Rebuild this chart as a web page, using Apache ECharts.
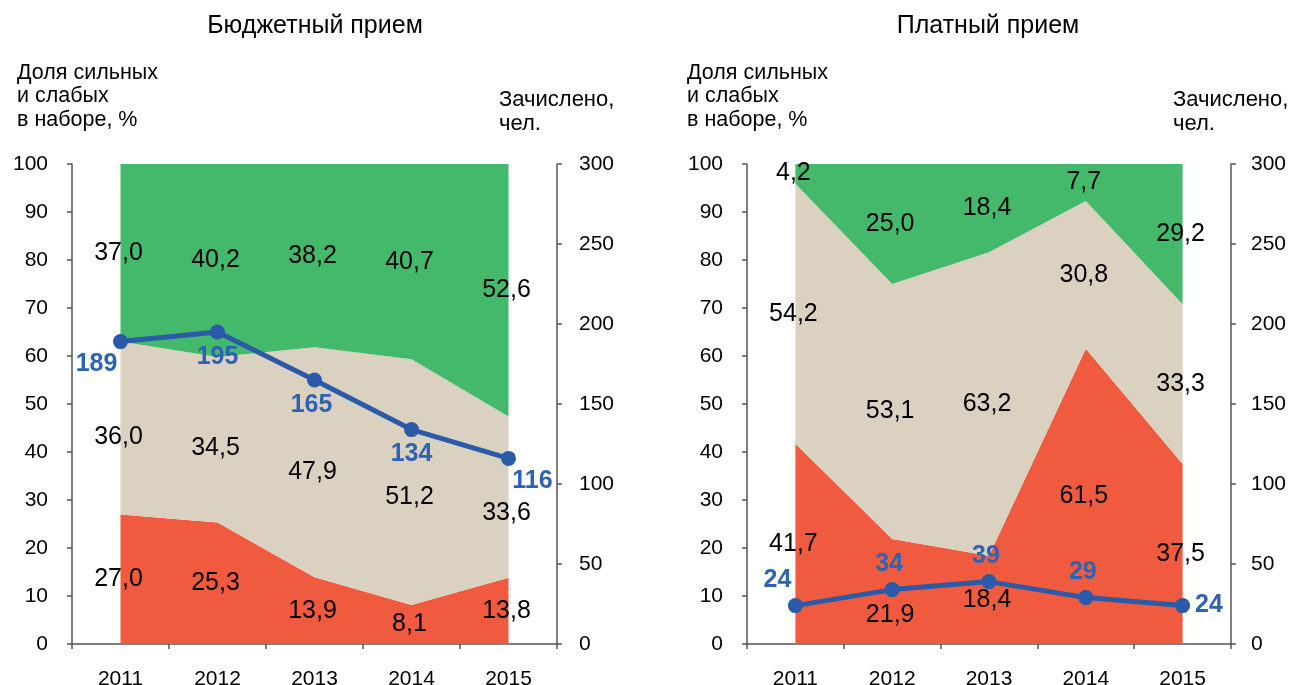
<!DOCTYPE html>
<html><head><meta charset="utf-8">
<script src="https://cdn.jsdelivr.net/npm/echarts@6/dist/echarts.min.js"></script>
<style>html,body{margin:0;padding:0;background:#fff}#c{width:1292px;height:685px}</style>
</head><body><div id="c"></div>
<script>
// ---- data ----
const years = ['2011', '2012', '2013', '2014', '2015'];
// Бюджетный прием
const budgetWeak = [27.0, 25.3, 13.9, 8.1, 13.8];
const budgetMiddle = [36.0, 34.5, 47.9, 51.2, 33.6];
const budgetStrong = [37.0, 40.2, 38.2, 40.7, 52.6];
const budgetEnrolled = [189, 195, 165, 134, 116];
// Платный прием
const paidWeak = [41.7, 21.9, 18.4, 61.5, 37.5];
const paidMiddle = [54.2, 53.1, 63.2, 30.8, 33.3];
const paidStrong = [4.2, 25.0, 18.4, 7.7, 29.2];
const paidEnrolled = [24, 34, 39, 29, 24];
const panelTitles = ['Бюджетный прием', 'Платный прием'];
const leftAxisName = 'Доля сильных\nи слабых\nв наборе, %';
const rightAxisName = 'Зачислено,\nчел.';

// ---- style ----
const FONT = 'Liberation Sans, Arial, sans-serif';
const GREEN = '#45b96b', BEIGE = '#dbd1c0', RED = '#f05a3f';
const BLUE = '#2a5aa8', BLUE_TXT = '#2f63b2', AXIS = '#555', TXT = '#000';
const budgetNudge = { weak: [0,0,0,0,0], middle: [9,8,10,15,16], strong: [0,0,0,0,0] };
const paidNudge = { weak: [0,24,0,0,0], middle: [0,0,0,0,0], strong: [0,0,0,0,0] };
const budgetLinePos = [['bottom',[-24,-2]],['bottom',[0,0]],['bottom',[-3,0]],['bottom',[0,0]],['bottom',[24,-2]]];
const paidLinePos = [['top',[-18,0]],['top',[-3,0]],['top',[-3,0]],['top',[-3,0]],['right',[0,0]]];

const fmt = v => v.toFixed(1).replace('.', ',');

function areaSeries(name, data, color, stack, xi, yi) {
  return { name, type: 'line', stack, xAxisIndex: xi, yAxisIndex: yi, data,
    showSymbol: false, symbol: 'none', lineStyle: { width: 0 }, areaStyle: { color, opacity: 1 },
    itemStyle: { color }, z: 1, silent: true };
}
function labelSeries(weak, middle, strong, nudge, xi, yi) {
  const items = [];
  years.forEach((y, i) => {
    const layers = [[weak[i], 0, nudge.weak[i]], [middle[i], weak[i], nudge.middle[i]], [strong[i], weak[i] + middle[i], nudge.strong[i]]];
    layers.forEach(([v, base, dy]) => {
      items.push({ value: [y, Math.min(base + v / 2, 100), v], label: { offset: [-2, dy] } });
    });
  });
  return { type: 'scatter', xAxisIndex: xi, yAxisIndex: yi, data: items, symbolSize: 1,
    itemStyle: { color: 'rgba(0,0,0,0)' }, z: 5, silent: true,
    label: { show: true, position: 'inside', formatter: p => fmt(p.value[2]),
      fontSize: 25, fontFamily: FONT, color: TXT, textBorderWidth: 0, opacity: 1 } };
}
function lineSeries(data, pos, xi, yi) {
  return { type: 'line', xAxisIndex: xi, yAxisIndex: yi, z: 4,
    data: data.map((v, i) => ({ value: v, label: { position: pos[i][0], offset: pos[i][1] } })),
    symbol: 'circle', symbolSize: 15, lineStyle: { width: 5, color: BLUE }, itemStyle: { color: BLUE },
    label: { show: true, fontSize: 25, fontWeight: 'bold', fontFamily: FONT, color: BLUE_TXT, distance: 5, textBorderWidth: 0 } };
}
const axLine = { show: true, lineStyle: { color: AXIS, width: 1.5 } };
const axTick = { show: true, length: 5, inside: false, lineStyle: { color: AXIS, width: 1.5 } };
function xAx(gi) {
  return { type: 'category', gridIndex: gi, data: years, boundaryGap: true, axisLine: axLine,
    axisTick: axTick, axisLabel: { fontSize: 21, fontFamily: FONT, color: TXT, margin: 25 } };
}
function yAx(gi, pos, max, interval, margin) {
  return { type: 'value', gridIndex: gi, position: pos, min: 0, max, interval,
    axisLine: axLine, axisTick: axTick, splitLine: { show: false },
    axisLabel: { fontSize: 21, fontFamily: FONT, color: TXT, margin } };
}
function txt(x, y, text, size, align, va, lh) {
  return { type: 'text', x, y, silent: true,
    style: { text, fontSize: size, fontFamily: FONT, fill: TXT, align, verticalAlign: va, lineHeight: lh } };
}

const chart = echarts.init(document.getElementById('c'), null, { renderer: 'canvas' });
chart.setOption({
  animation: false,
  backgroundColor: '#fff',
  grid: [
    { left: 72, top: 164, width: 485, height: 480, containLabel: false, outerBoundsMode: 'none' },
    { left: 747, top: 164, width: 484, height: 480, containLabel: false, outerBoundsMode: 'none' }
  ],
  xAxis: [xAx(0), xAx(1)],
  yAxis: [yAx(0, 'left', 100, 10, 24), yAx(0, 'right', 300, 50, 22), yAx(1, 'left', 100, 10, 24), yAx(1, 'right', 300, 50, 20)],
  graphic: [
    txt(315, 26, panelTitles[0], 25, 'center', 'middle', 28),
    txt(988, 26, panelTitles[1], 25, 'center', 'middle', 28),
    txt(17, 61, leftAxisName, 21.5, 'left', 'top', 23.5),
    txt(687, 61, leftAxisName, 21.5, 'left', 'top', 23.5),
    txt(499, 88, rightAxisName, 22, 'left', 'top', 24),
    txt(1173, 88, rightAxisName, 22, 'left', 'top', 24)
  ],
  series: [
    areaSeries('Слабые', budgetWeak, RED, 'b', 0, 0),
    areaSeries('Средние', budgetMiddle, BEIGE, 'b', 0, 0),
    areaSeries('Сильные', budgetStrong, GREEN, 'b', 0, 0),
    labelSeries(budgetWeak, budgetMiddle, budgetStrong, budgetNudge, 0, 0),
    lineSeries(budgetEnrolled, budgetLinePos, 0, 1),
    areaSeries('Слабые', paidWeak, RED, 'p', 1, 2),
    areaSeries('Средние', paidMiddle, BEIGE, 'p', 1, 2),
    areaSeries('Сильные', paidStrong, GREEN, 'p', 1, 2),
    labelSeries(paidWeak, paidMiddle, paidStrong, paidNudge, 1, 2),
    lineSeries(paidEnrolled, paidLinePos, 1, 3)
  ]
});
</script></body></html>
